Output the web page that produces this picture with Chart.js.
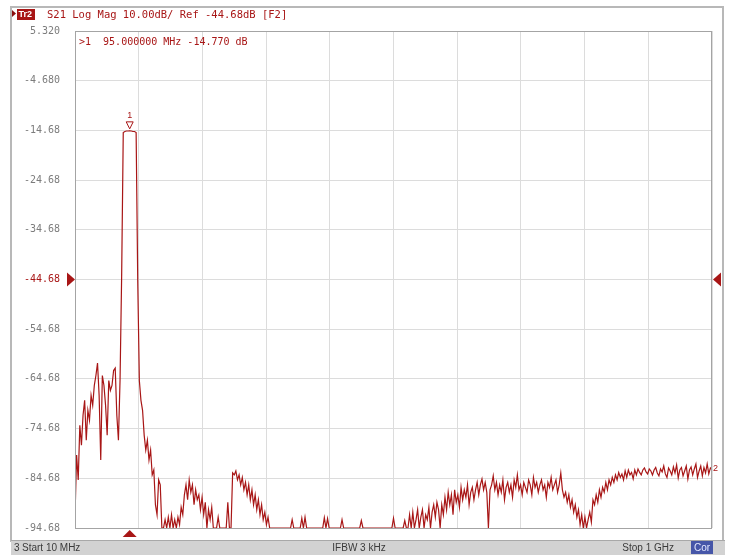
<!DOCTYPE html>
<html>
<head>
<meta charset="utf-8">
<script src="https://cdn.jsdelivr.net/npm/chart.js@4.4.1/dist/chart.umd.min.js"></script>
<style>
  html, body { margin: 0; padding: 0; background: #fff; }
  canvas { display: block; }
</style>
</head>
<body>
<canvas id="vna" width="732" height="556"></canvas>
<script>
// sweep settings of the analyzer screen
const startMHz = 10;
const stopMHz = 1000;
const stepMHz = 2.5;
const refLevel = -44.68;
const divDb = 10;
const markerMHz = 95;
const markerDb = -14.77;
const F = -94.68; // bottom of the screen, trace is clipped there

// S21 trace (one value every 2.5 MHz)
const s21dB = [
  -92.5, -80, -85, -74, -78, -72, -69, -77, -71, -73,
  -68, -70, -66, -64, -61.5, -68, -81, -64, -66, -70,
  -76, -65, -67, -66, -63, -62.5, -72, -77, -65, -44,
  -15.1, -14.9, -14.8, -14.8, -14.77, -14.8, -14.9, -14.9, -15.1, -45,
  -65, -69, -71, -76, -79, -77, -81, -79, -84, -83,
  -90, -92, -85, -86, F, F, -93, F, -92.5, F,
  -92, F, -93, F, -92.5, -94, -90.5, -92, -88, -86,
  -89, -85, -87.5, -86, -90, -87, -89, -88, -91, -88.5,
  -92, -89.5, F, -91, -93, -90.5, F, F, F, -92.5,
  F, F, F, F, F, -89.5, F, F, -83.6, -84,
  -83.2, -85, -84, -86, -84.5, -87, -85.5, -88, -86, -89,
  -87, -90, -88, -91, -89, -92, -90, -93, -91.5, -94,
  -92.5, F, F, F, F, F, F, F, F, F,
  F, F, F, F, F, -93, F, F, F, F,
  F, -92.7, F, -92.5, F, F, F, F, F, F,
  F, F, F, F, F, -92.6, F, -92.8, F, F,
  F, F, F, F, F, F, -93, F, F, F,
  F, F, F, F, F, F, F, F, -93.2, F,
  F, F, F, F, F, F, F, F, F, F,
  F, F, F, F, F, F, F, F, -92.7, F,
  F, F, F, F, F, -93.2, F, F, -92, F,
  -91.5, F, -93, -91, F, -92.5, -91, F, -92, -93,
  -90.5, F, -91.5, -90, -92.5, -89.5, -91, F, -90, -92,
  -88.5, -91, -87.5, -90, -88, -92, -87, -89.5, -88, -90.5,
  -86.5, -89, -87, -88.5, -86, -90, -87.5, -86.5, -89, -87,
  -85.5, -88, -86, -84.8, -87, -85.5, -87.5, F, -87, -86,
  -84.2, -87, -85.5, -88, -86, -87.5, -85, -89, -86.5, -85.5,
  -87.5, -86, -88.5, -85, -86.5, -84, -87, -86, -88, -85.5,
  -86.5, -87.5, -85, -86, -88, -84.5, -86.5, -85.5, -87.5, -86,
  -85, -87, -86, -88.5, -85.5, -86.5, -84.5, -87, -86, -85,
  -87.5, -86, -83.6, -87, -88.5, -87.5, -89.5, -88, -90.5, -89,
  -91.5, -90, -92.5, -91, -94, -92, F, -92.5, F, -93,
  -91.5, -93.5, -89, -90, -88, -89.5, -87, -88.5, -86.5, -87.5,
  -85.5, -87, -85, -86, -84.5, -85.5, -84, -85, -83.5, -84.5,
  -83.8, -85, -83.2, -84.5, -83, -84, -83.5, -84.8, -83, -84,
  -82.8, -83.5, -84, -83, -82.6, -83.4, -83.8, -82.8, -83.2, -84,
  -83, -82.5, -83.6, -84.2, -82.8, -83.4, -82.2, -83.8, -84.5, -82.6,
  -83.2, -84, -82.4, -83.6, -82, -84.6, -83, -82.5, -84.2, -83.2,
  -82.2, -84.8, -83, -82.4, -84, -82.8, -81.8, -84.5, -83.2, -82.2,
  -84.2, -82.5, -83.6, -81.8, -83.8, -82.6, -83
];
const freqMHz = s21dB.map((_, i) => startMHz + i * stepMHz);

const TRACE = '#a81616';
const MONO = '"DejaVu Sans Mono", monospace';
const SANS = '"Liberation Sans", Arial, sans-serif';

const vnaScreen = {
  id: 'vnaScreen',
  beforeDraw(chart) {
    const ctx = chart.ctx;
    ctx.save();
    ctx.fillStyle = '#fff';
    ctx.fillRect(0, 0, chart.width, chart.height);
    // outer window frame
    ctx.strokeStyle = '#b8b8b8';
    ctx.lineWidth = 2;
    ctx.strokeRect(11, 7, 712, 534);
    // trace title
    ctx.fillStyle = '#8a1010';
    ctx.beginPath();
    ctx.moveTo(12, 10);
    ctx.lineTo(16, 13.5);
    ctx.lineTo(12, 17);
    ctx.fill();
    ctx.fillStyle = TRACE;
    ctx.fillRect(17, 9, 18, 11);
    ctx.font = 'bold 9px ' + SANS;
    ctx.fillStyle = '#fff';
    ctx.textBaseline = 'middle';
    ctx.fillText('Tr2', 18.5, 14.5);
    ctx.font = '10.5px ' + MONO;
    ctx.fillStyle = TRACE;
    ctx.fillText('S21 Log Mag 10.00dB/ Ref -44.68dB [F2]', 47, 15);
    ctx.restore();
  },
  afterDraw(chart) {
    const ctx = chart.ctx;
    const a = chart.chartArea;
    const xs = chart.scales.x;
    const ys = chart.scales.y;
    ctx.save();
    ctx.strokeStyle = '#a4a4a4';
    ctx.lineWidth = 1;
    ctx.strokeRect(a.left + 0.5, a.top + 0.5, a.right - a.left - 1, a.bottom - a.top);

    // marker readout
    ctx.font = '10px ' + MONO;
    ctx.fillStyle = TRACE;
    ctx.textBaseline = 'middle';
    ctx.fillText('>1  95.000000 MHz -14.770 dB', a.left + 4, 42);

    // reference level arrows
    const yr = ys.getPixelForValue(refLevel);
    ctx.beginPath();
    ctx.moveTo(a.left - 8, yr - 7);
    ctx.lineTo(a.left, yr);
    ctx.lineTo(a.left - 8, yr + 7);
    ctx.fill();
    ctx.beginPath();
    ctx.moveTo(a.right + 9, yr - 7);
    ctx.lineTo(a.right + 1, yr);
    ctx.lineTo(a.right + 9, yr + 7);
    ctx.fill();

    // marker 1
    const xm = xs.getPixelForValue(markerMHz);
    const ym = ys.getPixelForValue(markerDb);
    ctx.beginPath();
    ctx.moveTo(xm - 7, a.bottom + 9);
    ctx.lineTo(xm, a.bottom + 2);
    ctx.lineTo(xm + 7, a.bottom + 9);
    ctx.fill();
    ctx.strokeStyle = TRACE;
    ctx.beginPath();
    ctx.moveTo(xm - 3.5, ym - 9);
    ctx.lineTo(xm + 3.5, ym - 9);
    ctx.lineTo(xm, ym - 2);
    ctx.closePath();
    ctx.stroke();
    ctx.font = '9px ' + SANS;
    ctx.textAlign = 'center';
    ctx.fillText('1', xm, ym - 15);

    // end of trace label
    const xe = xs.getPixelForValue(freqMHz[freqMHz.length - 1]);
    const ye = ys.getPixelForValue(s21dB[s21dB.length - 1]);
    ctx.textAlign = 'left';
    ctx.fillText('2', xe + 1, ye - 1);

    // status bar
    ctx.fillStyle = '#d2d2d2';
    ctx.fillRect(11, 540, 714, 15);
    ctx.fillStyle = '#a8a8a8';
    ctx.fillRect(11, 540, 714, 1);
    ctx.font = '10px ' + SANS;
    ctx.fillStyle = '#3a3a3a';
    ctx.fillText('3', 14, 548);
    ctx.fillText('Start 10 MHz', 22, 548);
    ctx.textAlign = 'center';
    ctx.fillText('IFBW 3 kHz', 359, 548);
    ctx.textAlign = 'right';
    ctx.fillText('Stop 1 GHz', 674, 548);
    ctx.fillStyle = '#4656a8';
    ctx.fillRect(691, 541, 22, 13);
    ctx.fillStyle = '#e4e8ff';
    ctx.textAlign = 'center';
    ctx.fillText('Cor', 702, 548);
    ctx.restore();
  }
};

new Chart(document.getElementById('vna'), {
  type: 'line',
  data: {
    datasets: [
      {
        label: 'S21',
        data: freqMHz.map((f, i) => ({ x: f, y: s21dB[i] })),
        borderColor: TRACE,
        borderWidth: 1.2,
        pointRadius: 0,
        tension: 0,
        fill: false,
      },
    ],
  },
  options: {
    responsive: false,
    animation: false,
    events: [],
    layout: { padding: { left: 0, top: 31, right: 20, bottom: 28 } },
    plugins: { legend: { display: false }, tooltip: { enabled: false } },
    scales: {
      x: {
        type: 'linear',
        min: startMHz,
        max: stopMHz,
        ticks: { display: false, stepSize: (stopMHz - startMHz) / 10 },
        grid: { color: '#dcdcdc', drawTicks: false },
        border: { display: false },
        afterFit: (scale) => { scale.height = 0; },
      },
      y: {
        min: refLevel - 5 * divDb,
        max: refLevel + 5 * divDb,
        ticks: {
          stepSize: divDb,
          padding: 15,
          font: { family: MONO, size: 10 },
          color: (c) => (Math.abs(c.tick.value - refLevel) < 0.01 ? TRACE : '#7c7c7c'),
          callback: (v) => Number(v).toPrecision(4),
        },
        grid: { color: '#dcdcdc', drawTicks: false },
        border: { display: false },
        afterFit: (scale) => { scale.width = 75; },
      },
    },
  },
  plugins: [vnaScreen],
});
</script>
</body>
</html>
